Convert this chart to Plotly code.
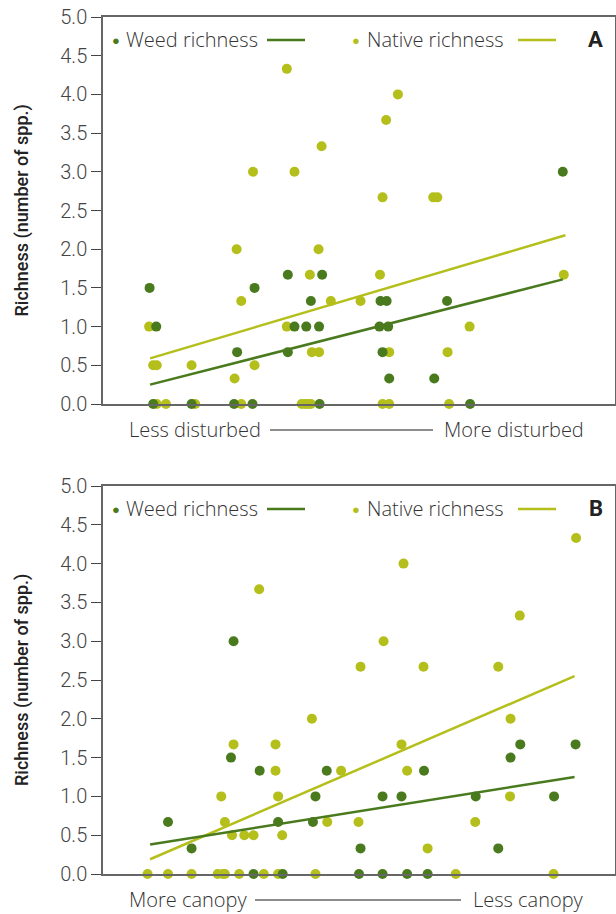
import plotly.graph_objects as go

# ---------------- data (x = position along gradient, 0-100) ----------------
# Panel A: disturbance gradient
a_weed_x = [9.1, 10.4, 9.8, 17.3, 25.6, 26.2, 29.6, 29.2, 36.1, 36.1, 37.4, 39.7, 40.6,
            42.2, 42.8, 42.3, 54.2, 55.4, 54.0, 55.7, 54.6, 55.9, 67.2, 64.7, 71.7, 89.8]
a_weed_y = [1.5, 1.0, 0, 0, 0, 0.67, 1.5, 0, 1.67, 0.67, 1.0, 1.0, 1.33,
            1.0, 1.67, 0, 1.33, 1.33, 1.0, 1.0, 0.67, 0.33, 1.33, 0.33, 0, 3.0]
a_nat_x = [9.0, 9.8, 10.5, 10.5, 12.3, 17.3, 18.0, 26.1, 27.0, 25.7, 27.0, 29.6, 29.3,
           35.9, 35.9, 37.4, 40.8, 42.2, 40.4, 42.1, 42.7, 44.5, 38.8, 39.5, 40.0, 40.6,
           50.3, 54.1, 54.6, 55.3, 57.6, 55.9, 54.6, 55.9, 64.5, 65.3, 71.6, 67.3, 67.6, 90.0]
a_nat_y = [1.0, 0.5, 0.5, 0, 0, 0.5, 0, 2.0, 1.33, 0.33, 0, 0.5, 3.0,
           1.0, 4.33, 3.0, 0.67, 0.67, 1.67, 2.0, 3.33, 1.33, 0, 0, 0, 0,
           1.33, 1.67, 2.67, 3.67, 4.0, 0.67, 0, 0, 2.67, 2.67, 1.0, 0.67, 0, 1.67]
a_weed_fit_x = [9.2, 89.8]
a_weed_fit_y = [0.25, 1.61]
a_nat_fit_x = [9.2, 90.3]
a_nat_fit_y = [0.59, 2.18]

# Panel B: canopy gradient
b_weed_x = [12.7, 17.3, 25.0, 25.5, 30.6, 29.4, 35.1, 34.2, 41.5, 41.0, 43.7, 50.3, 50.0,
            54.6, 59.4, 63.4, 54.6, 58.3, 62.7, 72.8, 77.2, 79.6, 81.5, 88.1, 92.3]
b_weed_y = [0.67, 0.33, 1.5, 3.0, 1.33, 0, 0, 0.67, 1.0, 0.67, 1.33, 0.33, 0,
            0, 0, 0, 1.0, 1.0, 1.33, 1.0, 0.33, 1.5, 1.67, 1.0, 1.67]
b_nat_x = [8.7, 12.7, 17.3, 22.4, 23.4, 23.8, 26.6, 31.4, 34.2, 41.5, 23.1, 23.8, 25.2,
           25.5, 27.6, 29.4, 33.7, 33.7, 34.2, 35.0, 40.8, 43.8, 46.5, 30.5, 49.9, 58.3,
           59.4, 72.7, 63.4, 68.9, 88.0, 79.6, 79.5, 92.4, 58.7, 81.4, 54.8, 50.3, 62.6, 77.2]
b_nat_y = [0, 0, 0, 0, 0, 0, 0, 0, 0, 0, 1.0, 0.67, 0.5,
           1.67, 0.5, 0.5, 1.67, 1.33, 1.0, 0.5, 2.0, 0.67, 1.33, 3.67, 0.67, 1.67,
           1.33, 0.67, 0.33, 0, 0, 2.0, 1.0, 4.33, 4.0, 3.33, 3.0, 2.67, 2.67, 2.67]
b_weed_fit_x = [9.2, 92.1]
b_weed_fit_y = [0.38, 1.25]
b_nat_fit_x = [9.2, 92.1]
b_nat_fit_y = [0.19, 2.55]

y_ticks = [0, 0.5, 1.0, 1.5, 2.0, 2.5, 3.0, 3.5, 4.0, 4.5, 5.0]
series_names = ["Weed richness", "Native richness"]
panel_letters = ["A", "B"]
x_labels_a = ["Less disturbed", "More disturbed"]
x_labels_b = ["More canopy", "Less canopy"]
y_title = "Richness (number of spp.)"

WEED = "#4a7a1e"
NAT = "#b4bf1b"
AXC = "#666666"
TXT = "#333333"
FONT = "Open Sans"
FONT2 = "Roboto"

W, H = 616, 914


def px(v):
    return v / W


def py(v):
    return 1 - v / H


fig = go.Figure()

panels = [
    dict(xa="x", ya="y", top=17, bot=404,
         weed=(a_weed_x, a_weed_y), nat=(a_nat_x, a_nat_y),
         wfit=(a_weed_fit_x, a_weed_fit_y), nfit=(a_nat_fit_x, a_nat_fit_y),
         letter=panel_letters[0], xl=x_labels_a),
    dict(xa="x2", ya="y2", top=486, bot=874,
         weed=(b_weed_x, b_weed_y), nat=(b_nat_x, b_nat_y),
         wfit=(b_weed_fit_x, b_weed_fit_y), nfit=(b_nat_fit_x, b_nat_fit_y),
         letter=panel_letters[1], xl=x_labels_b),
]

annotations = []
shapes = []

for p in panels:
    fig.add_trace(go.Scatter(x=p["nat"][0], y=p["nat"][1], mode="markers",
                             marker=dict(color=NAT, size=10, line=dict(width=0)),
                             xaxis=p["xa"], yaxis=p["ya"], showlegend=False,
                             cliponaxis=False))
    fig.add_trace(go.Scatter(x=p["weed"][0], y=p["weed"][1], mode="markers",
                             marker=dict(color=WEED, size=10, line=dict(width=0)),
                             xaxis=p["xa"], yaxis=p["ya"], showlegend=False,
                             cliponaxis=False))
    fig.add_trace(go.Scatter(x=p["nfit"][0], y=p["nfit"][1], mode="lines",
                             line=dict(color=NAT, width=2.5),
                             xaxis=p["xa"], yaxis=p["ya"], showlegend=False))
    fig.add_trace(go.Scatter(x=p["wfit"][0], y=p["wfit"][1], mode="lines",
                             line=dict(color=WEED, width=2.5),
                             xaxis=p["xa"], yaxis=p["ya"], showlegend=False))

    ly = p["top"] + 22
    # legend entries
    for cx, tx, l0, l1, col, name in [(116, 124, 267, 305, WEED, series_names[0]),
                                      (356, 365, 518, 556, NAT, series_names[1])]:
        annotations.append(dict(x=px(cx), y=py(ly + 1), xref="paper", yref="paper",
                                text="●", showarrow=False, xanchor="center", yanchor="middle",
                                font=dict(family=FONT2, size=13, color=col)))
        annotations.append(dict(x=px(tx), y=py(ly), xref="paper", yref="paper",
                                text=name, showarrow=False, xanchor="left", yanchor="middle",
                                font=dict(family=FONT, size=20, color=TXT, weight=300)))
        shapes.append(dict(type="line", xref="paper", yref="paper",
                           x0=px(l0), x1=px(l1), y0=py(ly + 1), y1=py(ly + 1),
                           line=dict(color=col, width=2.5)))
    annotations.append(dict(x=px(605), y=py(ly), xref="paper", yref="paper",
                            text="<b>" + p["letter"] + "</b>", showarrow=False,
                            xanchor="right", yanchor="middle",
                            font=dict(family=FONT2, size=22, color="#222222")))
    # x labels
    xly = p["bot"] + 25
    annotations.append(dict(x=px(127), y=py(xly), xref="paper", yref="paper",
                            text=p["xl"][0], showarrow=False, xanchor="left", yanchor="middle",
                            font=dict(family=FONT, size=20, color=TXT, weight=300)))
    annotations.append(dict(x=px(586), y=py(xly), xref="paper", yref="paper",
                            text=p["xl"][1], showarrow=False, xanchor="right", yanchor="middle",
                            font=dict(family=FONT, size=20, color=TXT, weight=300)))
    # y title
    annotations.append(dict(x=px(22), y=py((p["top"] + p["bot"]) / 2), xref="paper", yref="paper",
                            text=y_title, showarrow=False, textangle=-90,
                            xanchor="center", yanchor="middle",
                            font=dict(family=FONT2, size=18, color="#222222", weight=500)))

# connecting lines in x labels
shapes.append(dict(type="line", xref="paper", yref="paper", x0=px(270), x1=px(433),
                   y0=py(404 + 26), y1=py(404 + 26), line=dict(color=AXC, width=1.3)))
shapes.append(dict(type="line", xref="paper", yref="paper", x0=px(255), x1=px(461),
                   y0=py(874 + 26), y1=py(874 + 26), line=dict(color=AXC, width=1.3)))

xax = dict(range=[0, 100], showticklabels=False, ticks="", showgrid=False, zeroline=False,
           showline=True, linecolor=AXC, linewidth=1.5, mirror=True, automargin=False,
           domain=[px(103), px(615)])
yax_common = dict(range=[0, 5], tickvals=y_ticks, tickformat=".1f", ticks="outside",
                  ticklen=10, tickwidth=1.3, tickcolor="#444444", showgrid=False,
                  zeroline=False, showline=True, linecolor=AXC, linewidth=1.5, mirror=True,
                  automargin=False,
                  tickfont=dict(family=FONT2, size=20, color="#444444", weight=300))

fig.update_layout(
    template="none",
    width=W, height=H, margin=dict(l=0, r=0, t=0, b=0, pad=0), autosize=False,
    paper_bgcolor="white", plot_bgcolor="white",
    xaxis=dict(**xax, anchor="y"),
    yaxis=dict(**yax_common, domain=[py(404), py(17)], anchor="x"),
    xaxis2=dict(**xax, anchor="y2"),
    yaxis2=dict(**yax_common, domain=[py(874), py(486)], anchor="x2"),
    annotations=annotations, shapes=shapes, showlegend=False,
)

fig.write_html("out.html", config={"displayModeBar": False},
               post_script="document.body.style.margin='0';document.body.style.padding='0';"
                           "document.documentElement.style.overflow='hidden';")
